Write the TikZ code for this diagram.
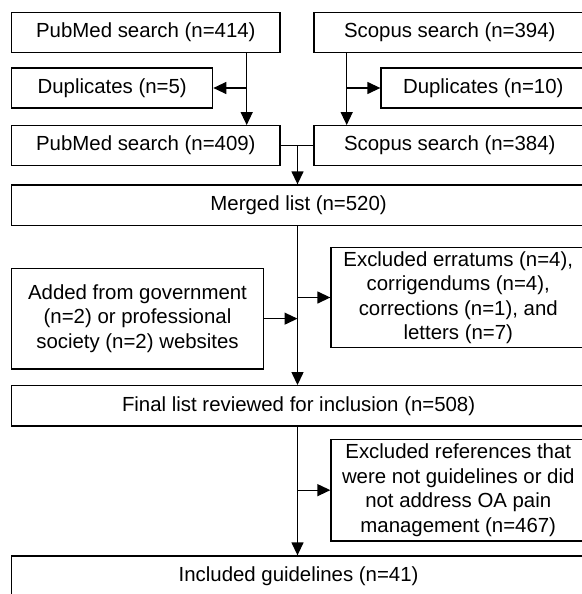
\documentclass[tikz,border=0pt]{standalone}
\usepackage{fontspec}
\setmainfont{Liberation Sans}
\usetikzlibrary{arrows.meta}
\begin{document}
\begin{tikzpicture}[x=1pt,y=-1pt,
  box/.style={draw=black, line width=1.3pt, rectangle, inner sep=0pt, align=center,
    font=\fontsize{20.4}{24.5}\selectfont},
  conn/.style={line width=1.3pt},
  arr/.style={line width=1.3pt, -{Triangle[length=13pt,width=12pt]}}]
\useasboundingbox (0,0) rectangle (581,594);
\fill[white] (0,0) rectangle (581,594);
\node[box, minimum width=268.3pt, minimum height=40pt] (pm1) at (145.85,32.7) {PubMed search (n=414)};
\node[box, minimum width=271.5pt, minimum height=40pt] (sc1) at (449.75,32.7) {Scopus search (n=394)};
\node[box, minimum width=201pt, minimum height=40pt] (dup1) at (112.2,88) {Duplicates (n=5)};
\node[box, minimum width=204.5pt, minimum height=40pt] (dup2) at (483.25,88) {Duplicates (n=10)};
\node[box, minimum width=268.3pt, minimum height=40pt] (pm2) at (145.85,145.7) {PubMed search (n=409)};
\node[box, minimum width=271.5pt, minimum height=40pt] (sc2) at (449.75,145.7) {Scopus search (n=384)};
\node[box, minimum width=573.8pt, minimum height=40.7pt] (merged) at (298.6,205.35) {Merged list (n=520)};
\node[box, minimum width=251.6pt, minimum height=100.7pt] (added) at (137.5,318.65) {Added from government\\(n=2) or professional\\society (n=2) websites};
\node[box, minimum width=254.5pt, minimum height=100.4pt] (excl1) at (458.25,297.5) {Excluded erratums (n=4),\\corrigendums (n=4),\\corrections (n=1), and\\letters (n=7)};
\node[box, minimum width=573.8pt, minimum height=40.3pt] (final) at (298.6,405.85) {Final list reviewed for inclusion (n=508)};
\node[box, minimum width=254.5pt, minimum height=101.7pt] (excl2) at (458.25,490.15) {Excluded references that\\were not guidelines or did\\not address OA pain\\management (n=467)};
\node[box, minimum width=573.8pt, minimum height=40pt] (incl) at (298.6,576) {Included guidelines (n=41)};
\coordinate (pmx) at (246.7,0);
\coordinate (scx) at (346.7,0);
\coordinate (mx) at (297.5,0);
\draw[arr] (pm1.south -| pmx) -- (pm2.north -| pmx);
\draw[arr] (dup1.east -| pmx) -- (dup1.east);
\draw[arr] (sc1.south -| scx) -- (sc2.north -| scx);
\draw[arr] (dup2.west -| scx) -- (dup2.west);
\draw[conn] (pm2.east) -- (sc2.west);
\draw[arr] (pm2.east -| mx) -- (merged.north -| mx);
\draw[arr] (merged.south -| mx) -- (final.north -| mx);
\draw[arr] (added.east) -- (added.east -| mx);
\draw[arr] (excl1.west -| mx) -- (excl1.west);
\draw[arr] (final.south -| mx) -- (incl.north -| mx);
\draw[arr] (excl2.west -| mx) -- (excl2.west);
\end{tikzpicture}
\end{document}
